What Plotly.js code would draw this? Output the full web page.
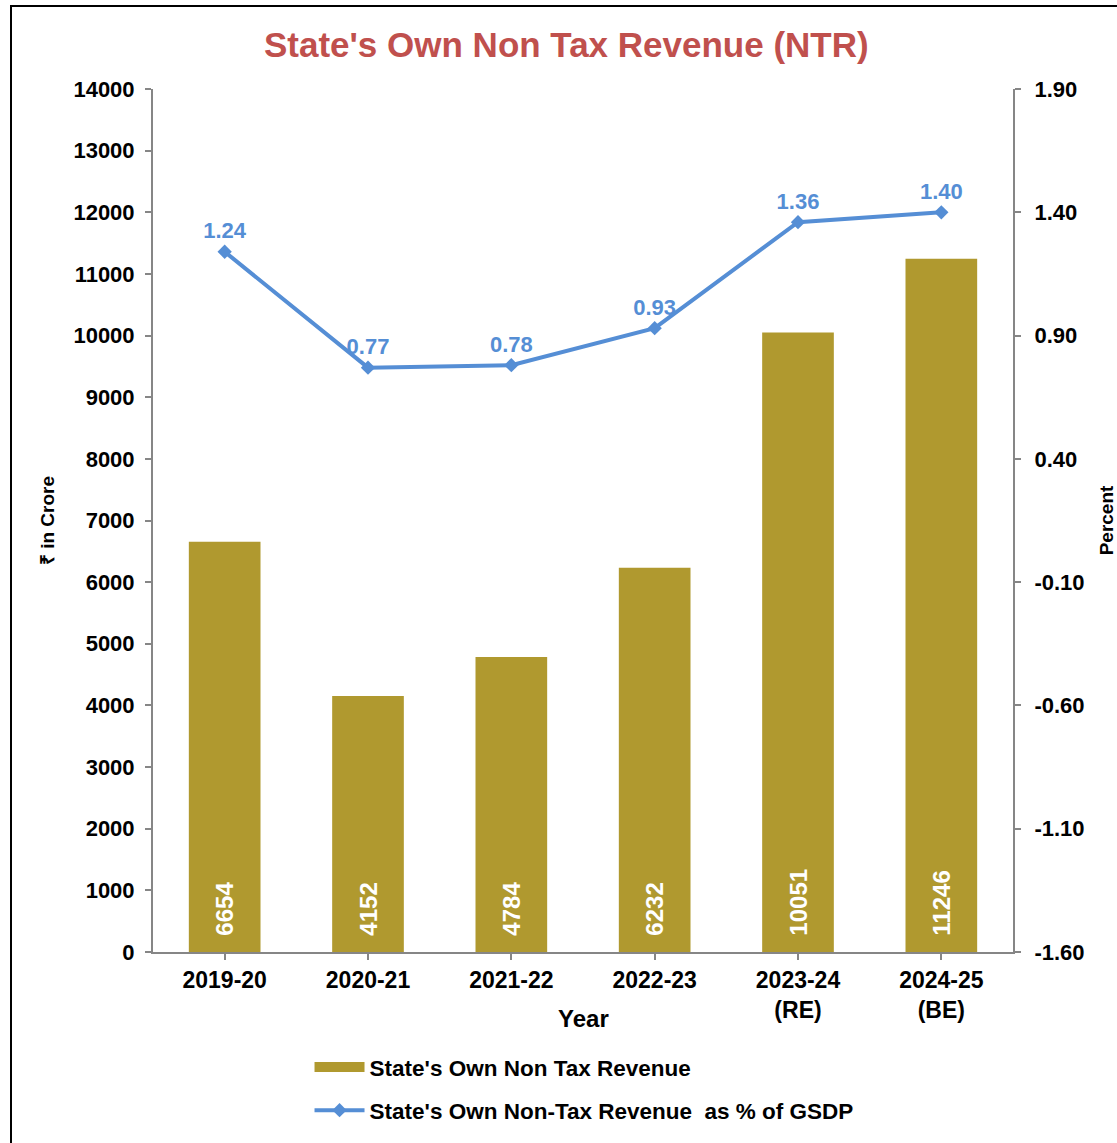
<!DOCTYPE html>
<html><head><meta charset="utf-8">
<script src="https://cdn.plot.ly/plotly-3.0.1.min.js"></script>
<style>
html,body{margin:0;padding:0;background:#fff;}
#frame{position:absolute;left:10px;top:5px;width:1120px;height:1160px;border-left:2px solid #000;border-top:2px solid #000;pointer-events:none;z-index:5;}
#chart{position:absolute;left:0;top:0;width:1117px;height:1143px;}
</style></head>
<body>
<div id="chart"></div>
<div id="frame"></div>
<script>
const years = ["2019-20","2020-21","2021-22","2022-23","2023-24<br>(RE)","2024-25<br>(BE)"];
const ntrValues = [6654, 4152, 4784, 6232, 10051, 11246];
const pctGSDP = [1.24, 0.77, 0.78, 0.93, 1.36, 1.40];
const leftTicks = [0,1000,2000,3000,4000,5000,6000,7000,8000,9000,10000,11000,12000,13000,14000];
const rightTicks = [-1.60,-1.10,-0.60,-0.10,0.40,0.90,1.40,1.90];

const FONT = "Liberation Sans, Arial, sans-serif";
const GOLD = '#B0992F', BLUE = '#558ED5';
const NB = '\u00a0\u00a0';
const bar = {
  type:'bar', x: years, y: ntrValues, name:"State's Own Non Tax Revenue",
  marker:{color:GOLD}, width:0.5, showlegend:false,
  text: ntrValues.map(v=>NB+String(v)), textposition:'inside', insidetextanchor:'start',
  textangle:-90, constraintext:'none',
  textfont:{family:FONT, size:24, color:'#fff', weight:'bold'},
  hoverinfo:'skip'
};
const barLegend = {
  type:'scatter', mode:'lines', x:[years[0]], y:[null], name:"State's Own Non Tax Revenue",
  line:{color:GOLD, width:13}, legendgroup:'a', hoverinfo:'skip'
};
const line = {
  type:'scatter', mode:'lines+markers+text', x: years, y: pctGSDP, yaxis:'y2',
  name:"State's Own Non-Tax Revenue  as % of GSDP", legendgroup:'b',
  line:{color:BLUE, width:4}, marker:{symbol:'diamond', size:11, color:BLUE},
  text: pctGSDP.map(v=>v.toFixed(2)), textposition:'top center',
  textfont:{family:FONT, size:22, color:BLUE, weight:'bold'},
  hoverinfo:'skip'
};
const axisLine = '#868686';
const layout = {
  width:1117, height:1143,
  margin:{l:153, r:104, t:89, b:190},
  paper_bgcolor:'#fff', plot_bgcolor:'#fff',
  font:{family:FONT, color:'#000'},
  title:{text:"State's Own Non Tax Revenue (NTR)", x:0.507, xanchor:'center', y:0.961, yanchor:'middle',
         font:{family:FONT, size:35, color:'#C0504D', weight:'bold'}},
  showlegend:true,
  legend:{orientation:'v', x:0.182, xanchor:'left', y:-0.207, yanchor:'bottom',
          font:{family:FONT, size:22.5, color:'#000', weight:'bold'}, tracegroupgap:11, itemwidth:50,
          traceorder:'grouped'},
  annotations:[{text:'Year', xref:'paper', yref:'paper', x:0.5, y:-0.0765, xanchor:'center', yanchor:'middle',
                showarrow:false, font:{family:FONT, size:24, weight:'bold', color:'#000'}}],
  xaxis:{type:'category', showgrid:false, showline:true, linecolor:axisLine, linewidth:2,
         ticks:'outside', ticklen:6, tickcolor:axisLine, tickwidth:2,
         tickfont:{family:FONT, size:23, weight:'bold'},
         range:[-0.5,5.5], fixedrange:true},
  yaxis:{range:[0,14000], tickvals:leftTicks, ticktext:leftTicks.map(String),
         showgrid:false, zeroline:false, showline:true, linecolor:axisLine, linewidth:2,
         ticks:'outside', ticklen:6, tickcolor:axisLine, tickwidth:2, ticklabelstandoff:6,
         tickfont:{family:FONT, size:22, weight:'bold'},
         title:{text:'₹ in Crore', font:{family:FONT, size:19, weight:'bold'}, standoff:14}},
  yaxis2:{overlaying:'y', side:'right', range:[-1.60,1.90], tickvals:rightTicks,
          ticktext:rightTicks.map(v=>v.toFixed(2)),
          showgrid:false, zeroline:false, showline:true, linecolor:axisLine, linewidth:2,
          ticks:'outside', ticklen:6, tickcolor:axisLine, tickwidth:2, ticklabelstandoff:9,
          tickfont:{family:FONT, size:22, weight:'bold'},
          title:{text:'Percent', font:{family:FONT, size:19, weight:'bold'}, standoff:20}},
  bargap:0.5
};
Plotly.newPlot('chart', [bar, barLegend, line], layout, {displayModeBar:false, staticPlot:true});
</script>
</body></html>
